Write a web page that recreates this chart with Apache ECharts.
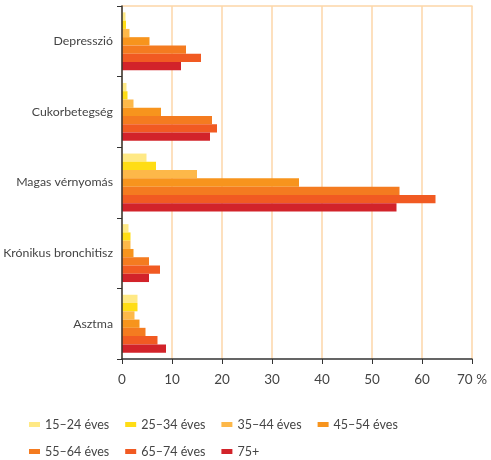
<!DOCTYPE html>
<html>
<head>
<meta charset="utf-8">
<script src="https://cdn.jsdelivr.net/npm/echarts@6/dist/echarts.min.js"></script>
<style>
  html, body { margin: 0; padding: 0; background: #fff; }
  #chart { width: 491px; height: 460px; }
</style>
</head>
<body>
<div id="chart"></div>
<script>
// categories, top to bottom
var categories = ['Depresszió', 'Cukorbetegség', 'Magas vérnyomás', 'Krónikus bronchitisz', 'Asztma']
var ageGroups = ['15–24 éves', '25–34 éves', '35–44 éves', '45–54 éves', '55–64 éves', '65–74 éves', '75+']
var colors = ['#ffe985', '#ffdd15', '#fdb849', '#f7941d', '#f47b20', '#f15a22', '#d2232a']
var xTicks = [0, 10, 20, 30, 40, 50, 60, 70]

// values (%) per age group, in category order
var age15_24 = [0.7, 0.9, 4.9, 1.3, 3.1]
var age25_34 = [0.8, 1.1, 6.8, 1.7, 3.1]
var age35_44 = [1.5, 2.3, 15.0, 1.7, 2.5]
var age45_54 = [5.5, 7.8, 35.4, 2.3, 3.5]
var age55_64 = [12.8, 18.0, 55.5, 5.4, 4.7]
var age65_74 = [15.8, 19.0, 62.7, 7.6, 7.1]
var age75plus = [11.8, 17.6, 54.9, 5.4, 8.8]

var seriesData = [age15_24, age25_34, age35_44, age45_54, age55_64, age65_74, age75plus]

var chart = echarts.init(document.getElementById('chart'))
var font = 'Lato, "Open Sans", sans-serif'

var series = ageGroups.map(function(name, i) {
  return {
    name: name,
    type: 'bar',
    data: seriesData[i],
    barGap: '0%',
    barCategoryGap: '18%',
    itemStyle: { color: colors[i] },
    z: 3
  }
})

function legendRow(items, top) {
  return {
    data: items,
    left: 24,
    top: top,
    icon: 'rect',
    itemWidth: 11,
    itemHeight: 5,
    itemGap: 16,
    textStyle: { color: '#444', fontSize: 12.5, fontFamily: font }
  }
}

chart.setOption({
  animation: false,
  grid: { left: 122, right: 19, top: 6, bottom: 101, containLabel: false, outerBoundsMode: 'none' },
  legend: [
    legendRow(ageGroups.slice(0, 4), 413),
    legendRow(ageGroups.slice(4), 440)
  ],
  xAxis: [
    {
      type: 'value',
      min: xTicks[0],
      max: xTicks[xTicks.length - 1],
      interval: 10,
      axisLine: { show: true, lineStyle: { color: '#333', width: 1.5 } },
      axisTick: { show: true, length: 5, lineStyle: { color: '#333' } },
      axisLabel: {
        margin: 14,
        color: '#444',
        fontSize: 13.5,
        fontFamily: font,
        formatter: function(v) { return v === 70 ? '70 %' : String(v) }
      },
      splitLine: { show: true, lineStyle: { color: '#fdd6a8', width: 1.5 } }
    },
    {
      type: 'value',
      position: 'top',
      min: 0,
      max: 70,
      axisLine: { show: true, lineStyle: { color: '#fdd6a8', width: 1.5 } },
      axisTick: { show: false },
      axisLabel: { show: false },
      splitLine: { show: false }
    }
  ],
  yAxis: {
    type: 'category',
    data: categories,
    inverse: true,
    axisLine: { show: true, lineStyle: { color: '#333', width: 1.5 } },
    axisTick: { show: true, length: 5, lineStyle: { color: '#333' } },
    axisLabel: { margin: 9, color: '#444', fontSize: 12.3, fontFamily: font },
    splitLine: { show: false },
    z: 5
  },
  series: series
})
</script>
</body>
</html>
